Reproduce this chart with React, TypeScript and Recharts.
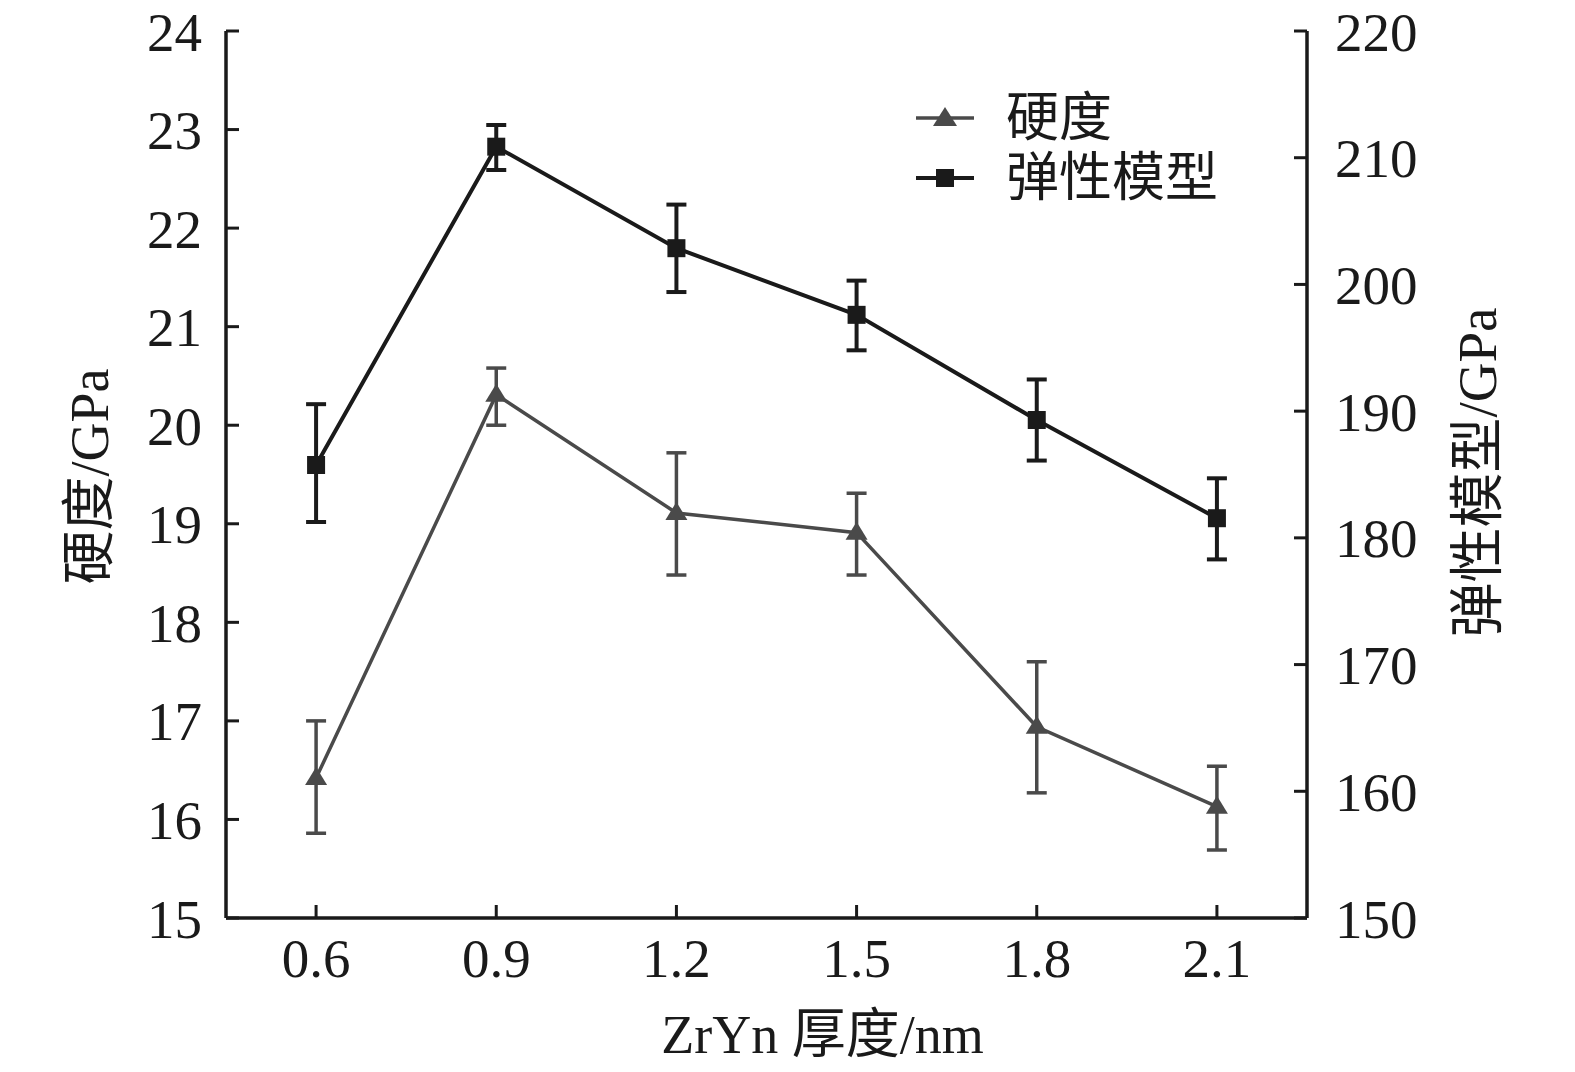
import React from 'react';
import { ComposedChart, Line, XAxis, YAxis, ErrorBar, Legend } from 'recharts';

const thickness = [0.6, 0.9, 1.2, 1.5, 1.8, 2.1];
const hardness = [16.42, 20.31, 19.11, 18.91, 16.94, 16.13];
const hardnessErr = [[0.56, 0.58], [0.31, 0.27], [0.63, 0.61], [0.43, 0.4], [0.67, 0.66], [0.44, 0.41]];
const modulus = [185.75, 210.87, 202.86, 197.6, 189.3, 181.55];
const modulusErr = [[4.5, 4.8], [1.84, 1.71], [3.46, 3.44], [2.8, 2.7], [3.2, 3.2], [3.25, 3.15]];
const xTicks = [0.6, 0.9, 1.2, 1.5, 1.8, 2.1];
const leftTicks = [15, 16, 17, 18, 19, 20, 21, 22, 23, 24];
const rightTicks = [150, 160, 170, 180, 190, 200, 210, 220];
const seriesNames = ['硬度', '弹性模型'];
const xTitle = 'ZrYn 厚度/nm';
const leftTitle = '硬度/GPa';
const rightTitle = '弹性模型/GPa';

const FONT = '"Liberation Serif", "Noto Sans CJK SC", serif';
const INK = '#1a1a1a';
const GRAY = '#4a4a4a';
const TICK_LEN = 13;
const TICK_FS = 55;
const LEFT_GAP = 24;
const RIGHT_GAP = 28;
const BOTTOM_GAP = 20;

const data = thickness.map((x, i) => ({
  x,
  h: hardness[i],
  hErr: hardnessErr[i],
  m: modulus[i],
  mErr: modulusErr[i],
}));

const TriangleDot = (props: any) => {
  const { cx, cy, index } = props;
  if (cx == null || cy == null) return <g key={`t-${index}`} />;
  return (
    <path
      key={`t-${index}`}
      d={`M${cx},${cy - 11} L${cx + 11},${cy + 7} L${cx - 11},${cy + 7} Z`}
      fill={GRAY}
    />
  );
};

const SquareDot = (props: any) => {
  const { cx, cy, index } = props;
  if (cx == null || cy == null) return <g key={`s-${index}`} />;
  return <rect key={`s-${index}`} x={cx - 9} y={cy - 9} width={18} height={18} fill={INK} />;
};

const LeftTick = (props: any) => {
  const { x, y, payload } = props;
  const ax = x + LEFT_GAP;
  return (
    <g>
      <line x1={ax} x2={ax + TICK_LEN} y1={y} y2={y} stroke={INK} strokeWidth={3} />
      <text x={x} y={y} dy="0.355em" textAnchor="end" fontSize={TICK_FS} fontFamily={FONT} fill={INK}>
        {payload.value}
      </text>
    </g>
  );
};

const RightTick = (props: any) => {
  const { x, y, payload } = props;
  const ax = x - RIGHT_GAP;
  return (
    <g>
      <line x1={ax - TICK_LEN} x2={ax} y1={y} y2={y} stroke={INK} strokeWidth={3} />
      <text x={x} y={y} dy="0.355em" textAnchor="start" fontSize={TICK_FS} fontFamily={FONT} fill={INK}>
        {payload.value}
      </text>
    </g>
  );
};

const BottomTick = (props: any) => {
  const { x, y, payload } = props;
  const ay = y - BOTTOM_GAP;
  return (
    <g>
      <line x1={x} x2={x} y1={ay} y2={ay - TICK_LEN} stroke={INK} strokeWidth={3} />
      <text x={x} y={y} dy="0.71em" textAnchor="middle" fontSize={TICK_FS} fontFamily={FONT} fill={INK}>
        {Number(payload.value).toFixed(1)}
      </text>
    </g>
  );
};

const renderLegend = () => (
  <div style={{ display: 'flex', flexDirection: 'column' }}>
    {seriesNames.map((name, i) => (
      <div key={name} style={{ display: 'flex', alignItems: 'center', height: 60 }}>
        <svg width={62} height={24} style={{ display: 'block' }}>
          <line x1={2} y1={12} x2={60} y2={12} stroke={i === 0 ? GRAY : INK} strokeWidth={i === 0 ? 3.5 : 4} />
          {i === 0 ? (
            <path d="M31,1 L43,20 L19,20 Z" fill={GRAY} />
          ) : (
            <rect x={22} y={3} width={18} height={18} fill={INK} />
          )}
        </svg>
        <span
          style={{
            marginLeft: 30,
            fontSize: 53,
            lineHeight: '60px',
            fontFamily: FONT,
            color: INK,
            whiteSpace: 'nowrap',
          }}
        >
          {name}
        </span>
      </div>
    ))}
  </div>
);

const xLabel = (props: any) => {
  const vb = props.viewBox || {};
  const cx = vb.x + vb.width / 2 + 56;
  const cy = vb.y + 135;
  return (
    <text x={cx} y={cy} textAnchor="middle" fontSize={54} fontFamily={FONT} fill={INK}>
      {xTitle}
    </text>
  );
};

const leftLabel = (props: any) => {
  const vb = props.viewBox || {};
  const cx = vb.x + 90;
  const cy = vb.y + vb.height / 2 + 2;
  return (
    <text
      x={cx}
      y={cy}
      transform={`rotate(-90 ${cx} ${cy})`}
      textAnchor="middle"
      dominantBaseline="central"
      fontSize={54}
      fontFamily={FONT}
      fill={INK}
    >
      {leftTitle}
    </text>
  );
};

const rightLabel = (props: any) => {
  const vb = props.viewBox || {};
  const cx = vb.x + 170;
  const cy = vb.y + vb.height / 2 - 2;
  return (
    <text
      x={cx}
      y={cy}
      transform={`rotate(-90 ${cx} ${cy})`}
      textAnchor="middle"
      dominantBaseline="central"
      fontSize={55}
      fontFamily={FONT}
      fill={INK}
    >
      {rightTitle}
    </text>
  );
};

export default function App() {
  return (
    <div style={{ position: 'absolute', left: 0, top: 0, width: 1575, height: 1072, background: '#fff' }}>
      <ComposedChart width={1575} height={1072} data={data} margin={{ top: 31, right: 0, bottom: 0, left: 0 }}>
        <XAxis
          dataKey="x"
          type="number"
          domain={[0.45, 2.25]}
          ticks={xTicks}
          allowDataOverflow
          height={154}
          axisLine={{ stroke: INK, strokeWidth: 3.5 }}
          tickLine={false}
          tickSize={0}
          tickMargin={BOTTOM_GAP}
          tick={BottomTick}
          label={{ content: xLabel }}
        />
        <XAxis
          xAxisId="top"
          orientation="top"
          dataKey="x"
          type="number"
          domain={[0.45, 2.25]}
          height={0}
          tick={false}
          tickLine={false}
          axisLine={{ stroke: INK, strokeWidth: 3.5 }}
        />
        <YAxis
          yAxisId="h"
          orientation="left"
          type="number"
          domain={[15, 24]}
          ticks={leftTicks}
          allowDataOverflow
          width={226}
          axisLine={{ stroke: INK, strokeWidth: 3.5 }}
          tickLine={false}
          tickSize={0}
          tickMargin={LEFT_GAP}
          tick={LeftTick}
          label={{ content: leftLabel }}
        />
        <YAxis
          yAxisId="m"
          orientation="right"
          type="number"
          domain={[150, 220]}
          ticks={rightTicks}
          allowDataOverflow
          width={268}
          axisLine={{ stroke: INK, strokeWidth: 3.5 }}
          tickLine={false}
          tickSize={0}
          tickMargin={RIGHT_GAP}
          tick={RightTick}
          label={{ content: rightLabel }}
        />
        <Legend
          layout="vertical"
          align="center"
          verticalAlign="middle"
          content={renderLegend}
          wrapperStyle={{ position: 'absolute', top: 88, left: 914, width: 'auto', height: 'auto' }}
        />
        <Line
          yAxisId="h"
          dataKey="h"
          name={seriesNames[0]}
          stroke={GRAY}
          strokeWidth={3.5}
          dot={TriangleDot}
          activeDot={false}
          isAnimationActive={false}
        >
          <ErrorBar dataKey="hErr" direction="y" width={10} stroke={GRAY} strokeWidth={3.5} isAnimationActive={false} />
        </Line>
        <Line
          yAxisId="m"
          dataKey="m"
          name={seriesNames[1]}
          stroke={INK}
          strokeWidth={4}
          dot={SquareDot}
          activeDot={false}
          isAnimationActive={false}
        >
          <ErrorBar dataKey="mErr" direction="y" width={10} stroke={INK} strokeWidth={4} isAnimationActive={false} />
        </Line>
      </ComposedChart>
    </div>
  );
}
